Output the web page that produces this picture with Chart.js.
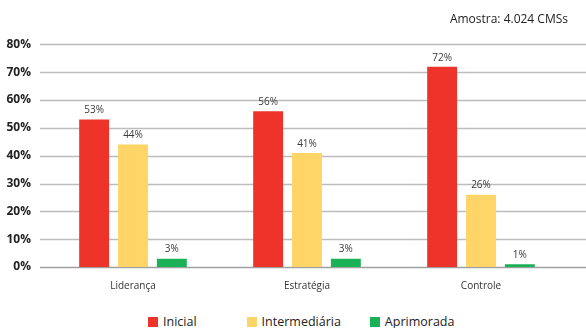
<!DOCTYPE html>
<html>
<head>
<meta charset="utf-8">
<script src="https://cdn.jsdelivr.net/npm/chart.js@4"></script>
<style>
  html, body { margin: 0; padding: 0; background: #fff; overflow: hidden; }
  #wrap { position: relative; width: 586px; height: 328px; overflow: hidden; }
  #box { width: 586px; height: 299px; }
  #legend {
    position: absolute; left: 0; top: 315px; width: 586px;
    display: flex; padding-left: 148px; box-sizing: border-box;
    font: 12.5px/14px "Open Sans", sans-serif; color: #222;
  }
  #legend span.item { display: flex; align-items: center; white-space: nowrap; }
  #legend span.item:nth-child(1) { margin-right: 50px; }
  #legend span.item:nth-child(2) { margin-right: 29px; }
  #legend i { display: inline-block; width: 10px; height: 10px; margin-right: 5px; }
</style>
</head>
<body>
<div id="wrap">
  <div id="box"><canvas id="chart"></canvas></div>
  <div id="legend"></div>
</div>
<script>
const categories = ['Liderança', 'Estratégia', 'Controle'];
const seriesNames = ['Inicial', 'Intermediária', 'Aprimorada'];
const inicial = [53, 56, 72];
const intermediaria = [44, 41, 26];
const aprimorada = [3, 3, 1];
const yTicks = [0, 10, 20, 30, 40, 50, 60, 70, 80];
const sampleNote = 'Amostra: 4.024 CMSs';

const colors = ['#ee332b', '#ffd567', '#1bb157'];

// grid lines run from the tick labels to the right edge of the canvas
const gridPlugin = {
    id: 'fullGrid',
    beforeDatasetsDraw(chart) {
        const ctx = chart.ctx;
        const y = chart.scales.y;
        ctx.save();
        yTicks.forEach(v => {
            const py = Math.round(y.getPixelForValue(v)) + 0.5;
            ctx.beginPath();
            ctx.lineWidth = 1.5;
            ctx.strokeStyle = v === 0 ? '#a0a0a0' : '#bdbdbd';
            ctx.moveTo(40, py);
            ctx.lineTo(chart.width, py);
            ctx.stroke();
        });
        ctx.restore();
    }
};

const labelPlugin = {
    id: 'barLabels',
    afterDatasetsDraw(chart) {
        const ctx = chart.ctx;
        ctx.save();
        ctx.font = '10px "Open Sans", sans-serif';
        ctx.fillStyle = '#3a3a3a';
        ctx.textAlign = 'center';
        ctx.textBaseline = 'bottom';
        chart.data.datasets.forEach((ds, i) => {
            chart.getDatasetMeta(i).data.forEach((bar, j) => {
                ctx.fillText(ds.data[j] + '%', bar.x, bar.y - 4);
            });
        });
        ctx.restore();
    }
};

const chart = new Chart(document.getElementById('chart'), {
    type: 'bar',
    data: {
        labels: categories,
        datasets: [inicial, intermediaria, aprimorada].map((d, i) => ({
            label: seriesNames[i],
            data: d,
            backgroundColor: colors[i],
            barPercentage: 0.77,
            categoryPercentage: 0.67
        }))
    },
    options: {
        responsive: true,
        maintainAspectRatio: false,
        animation: false,
        layout: { padding: { left: 0, right: 18, top: 0, bottom: 2 } },
        plugins: {
            title: {
                display: true,
                text: sampleNote,
                align: 'end',
                color: '#222',
                font: { family: '"Open Sans", sans-serif', size: 12, weight: 'normal' },
                padding: { top: 12, bottom: 18 }
            },
            legend: { display: false },
            tooltip: { enabled: false }
        },
        scales: {
            x: {
                grid: { display: false },
                border: { display: false },
                ticks: {
                    color: '#333',
                    padding: 5,
                    font: { family: '"Open Sans", sans-serif', size: 10 }
                }
            },
            y: {
                min: 0,
                max: 80,
                afterFit: s => { s.width = 46; },
                afterBuildTicks: s => { s.ticks = yTicks.map(v => ({ value: v })); },
                grid: { display: false },
                border: { display: false },
                ticks: {
                    padding: 7,
                    color: '#222',
                    font: { family: '"Open Sans", sans-serif', size: 12, weight: 'bold' },
                    callback: v => v + '%'
                }
            }
        }
    },
    plugins: [gridPlugin, labelPlugin]
});

const legend = document.getElementById('legend');
chart.data.datasets.forEach(ds => {
    legend.innerHTML += `<span class="item"><i style="background:${ds.backgroundColor}"></i>${ds.label}</span>`;
});
</script>
</body>
</html>
